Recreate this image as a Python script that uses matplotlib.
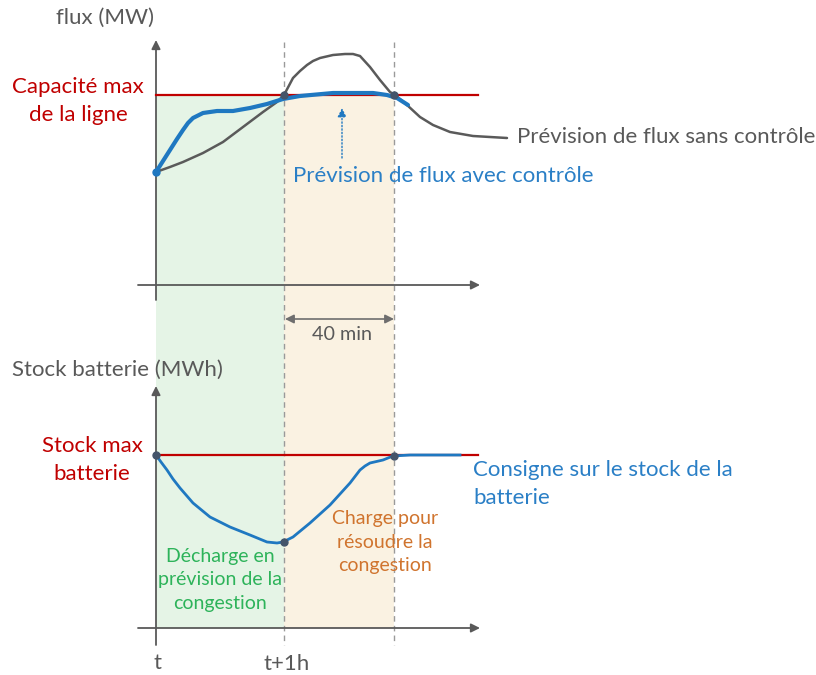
import matplotlib
matplotlib.use("Agg")
import matplotlib.pyplot as plt
from matplotlib.patches import Rectangle, FancyArrowPatch

# ---- data (schematic, pixel-space readings of the reference) ----
t_start, t_1h, t_end = 156, 284, 394
flux_cap = 95
flux_nocontrol_x = [156, 170, 183, 203, 223, 243, 263, 277, 284, 293, 300, 307, 313, 320, 333, 345, 353, 360, 370, 380, 390, 395, 407, 420, 433, 450, 473, 507]
flux_nocontrol_y = [172, 167, 162, 153, 142, 127, 112, 102, 95, 78, 71, 65, 61, 58, 55, 54, 54, 56, 67, 80, 92, 95, 105, 117, 125, 132, 136, 138]
flux_control_x = [156, 163, 170, 177, 183, 188, 193, 203, 217, 233, 250, 267, 283, 300, 333, 373, 387, 397, 408]
flux_control_y = [172, 161, 150, 139, 130, 123, 118, 113, 111, 111, 108, 104, 99, 96, 93, 93, 95, 98, 105]
stock_max = 455
stock_x = [156, 161, 167, 173, 180, 193, 210, 230, 250, 267, 277, 283, 293, 310, 330, 350, 360, 365, 370, 383, 393, 410, 460]
stock_y = [455, 462, 470, 479, 488, 503, 517, 527, 535, 542, 543, 542, 537, 523, 505, 483, 470, 466, 463, 460, 456, 455, 455]

GRAY = "#595959"
RED = "#C00000"
BLUE = "#1F78C1"
BLUE_TXT = "#2A7FC6"
DOT = "#44546A"
GREEN_TXT = "#2DB35A"
ORANGE_TXT = "#D0742E"
FONT = "Lato"

plt.rcParams['font.family'] = [FONT, 'DejaVu Sans']

fig = plt.figure(figsize=(8.16, 6.75), dpi=100)
ax = fig.add_axes([0, 0, 1, 1])
ax.set_xlim(0, 816)
ax.set_ylim(675, 0)
ax.axis("off")

# shaded regions
ax.add_patch(Rectangle((t_start, flux_cap), t_1h - t_start, 628 - flux_cap, color="#E5F4E6", lw=0, zorder=0))
ax.add_patch(Rectangle((t_1h, flux_cap), t_end - t_1h, 628 - flux_cap, color="#FAF2E2", lw=0, zorder=0))

# dashed verticals
for xv in (t_1h, t_end):
    ax.plot([xv, xv], [42, 645], color="#9A9A9A", lw=1.0, ls=(0, (4, 3)), zorder=1)

def arrow(x0, y0, x1, y1, style="-|>", color=GRAY, lw=1.3, ls="-"):
    ax.add_patch(FancyArrowPatch((x0, y0), (x1, y1), arrowstyle=style, mutation_scale=13,
                                 color=color, lw=lw, linestyle=ls, shrinkA=0, shrinkB=0, zorder=2))

# top axes
arrow(156, 300, 156, 40)
arrow(138, 285, 480, 285)
# bottom axes
arrow(156, 645, 156, 386)
arrow(138, 628, 480, 628)

# red capacity lines
ax.plot([156, 478], [flux_cap, flux_cap], color=RED, lw=1.6, zorder=2)
ax.plot([156, 478], [stock_max, stock_max], color=RED, lw=1.6, zorder=2)

# flux curves
ax.plot(flux_nocontrol_x, flux_nocontrol_y, color="#5A5A5A", lw=1.8, zorder=3,
        solid_capstyle="round", solid_joinstyle="round")
ax.plot(flux_control_x, flux_control_y, color=BLUE, lw=3.0, zorder=4,
        solid_capstyle="round", solid_joinstyle="round")
ax.plot([156], [172], "o", color=BLUE, ms=5, zorder=5)
ax.plot([t_1h, t_end], [flux_cap, flux_cap], "o", color=DOT, ms=5, zorder=5)

# stock curve
ax.plot(stock_x, stock_y, color=BLUE, lw=2.0, zorder=4, solid_joinstyle="round")
ax.plot([156, t_1h, t_end], [stock_max, 542, 456], "o", color=DOT, ms=5, zorder=5)

# dotted blue arrow
arrow(342, 158, 342, 108, style="-|>", color=BLUE, lw=1.0, ls=(0, (1, 1.5)))

# 40 min double arrow
arrow(285, 319, 394, 319, style="<|-|>", color="#6E6E6E", lw=1.2)

fs = 16
ax.text(105, 18, "flux (MW)", color=GRAY, fontsize=fs, ha="center", va="center")
ax.text(78, 101, "Capacité max\nde la ligne", color=RED, fontsize=fs, ha="center", va="center", linespacing=1.5)
ax.text(517, 137, "Prévision de flux sans contrôle", color=GRAY, fontsize=fs, ha="left", va="center")
ax.text(293, 176, "Prévision de flux avec contrôle", color=BLUE_TXT, fontsize=fs, ha="left", va="center")
ax.text(342, 335, "40 min", color=GRAY, fontsize=14.2, ha="center", va="center")
ax.text(12, 370, "Stock batterie (MWh)", color=GRAY, fontsize=fs, ha="left", va="center")
ax.text(92, 460, "Stock max\nbatterie", color=RED, fontsize=fs, ha="center", va="center", linespacing=1.5)
ax.text(473, 484, "Consigne sur le stock de la\nbatterie", color=BLUE_TXT, fontsize=fs, ha="left", va="center", linespacing=1.45)
ax.text(220, 580, "Décharge en\nprévision de la\ncongestion", color=GREEN_TXT, fontsize=14, ha="center", va="center", linespacing=1.45)
ax.text(385, 542, "Charge pour\nrésoudre la\ncongestion", color=ORANGE_TXT, fontsize=14, ha="center", va="center", linespacing=1.45)
ax.text(157, 663, "t", color=GRAY, fontsize=fs, ha="center", va="center")
ax.text(287, 664, "t+1h", color=GRAY, fontsize=fs, ha="center", va="center")

fig.savefig("out.png", dpi=100)
